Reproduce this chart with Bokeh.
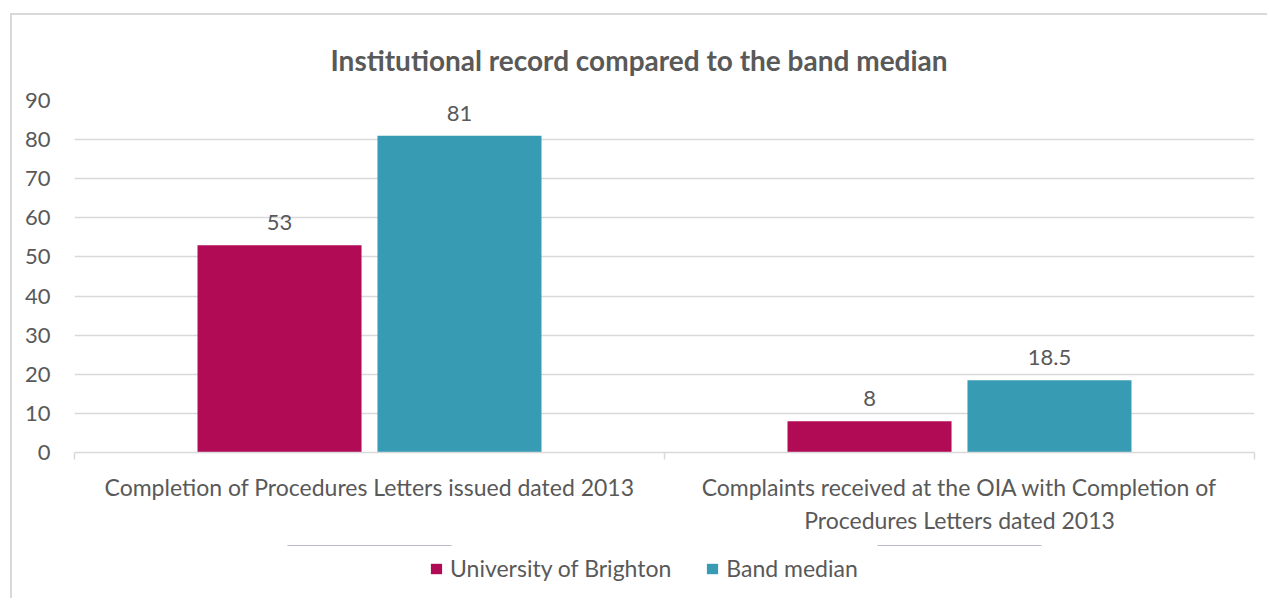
from bokeh.plotting import figure
from bokeh.layouts import column
from bokeh.models import (ColumnDataSource, Range1d, LinearAxis,
                          FixedTicker, Legend, LegendItem)
from bokeh.core.properties import value
from bokeh.transform import dodge
from bokeh.embed import file_html
from bokeh.resources import INLINE

# ---- data ----
categories = [
    "Completion of Procedures Letters issued dated 2013",
    "Complaints received at the OIA with Completion of\nProcedures Letters dated 2013",
]
series_names = ["University of Brighton", "Band median"]
brighton = [53, 8]
band_median = [81, 18.5]
y_ticks = [0, 10, 20, 30, 40, 50, 60, 70, 80, 90]
title_text = "Institutional record compared to the band median"

TEXT = "#595959"
GRID = "#d9d9d9"
RED = "#b10b55"
BLUE = "#389bb4"
FONT = "Lato"

def fmt(v):
    return f"{v:g}"

centers = [i + 0.5 for i in range(len(categories))]
src = ColumnDataSource(dict(
    x=centers,
    brighton=brighton,
    median=band_median,
    brighton_lbl=[fmt(v) for v in brighton],
    median_lbl=[fmt(v) for v in band_median],
))

W, H, HL = 1255, 530, 53
p = figure(x_range=Range1d(0, len(categories)), y_range=Range1d(0, 90),
           width=W, height=H, output_backend="svg", toolbar_location=None,
           x_axis_location=None, y_axis_location=None,
           min_border_left=62, min_border_right=13, min_border_top=85, min_border_bottom=93)
p.outline_line_color = None
p.background_fill_color = "white"
p.border_fill_color = "white"

# title
p.title.text = title_text
p.title.align = "left"
p.title.offset = 256
p.title.text_font = FONT
p.title.text_font_size = "28px"
p.title.text_font_style = "bold"
p.title.text_color = TEXT
p.title.standoff = 48

# y axis
yax = LinearAxis(ticker=FixedTicker(ticks=y_ticks))
yax.axis_line_color = None
yax.major_tick_line_color = None
yax.minor_tick_line_color = None
yax.major_label_text_font = FONT
yax.major_label_text_font_size = "22px"
yax.major_label_text_color = TEXT
yax.major_label_standoff = 18
p.add_layout(yax, "left")
p.ygrid.ticker = FixedTicker(ticks=y_ticks)
p.ygrid.grid_line_color = GRID
p.ygrid.grid_line_width = 1.5
p.xgrid.grid_line_color = None

# boundary tick axis (category separators)
bounds = list(range(len(categories) + 1))
bax = LinearAxis(ticker=FixedTicker(ticks=bounds))
bax.axis_line_color = GRID
bax.axis_line_width = 1.5
bax.major_tick_line_color = GRID
bax.major_tick_line_width = 1.5
bax.major_tick_in = 0
bax.major_tick_out = 7
bax.minor_tick_line_color = None
bax.major_label_overrides = {b: "" for b in bounds}
bax.major_label_text_font_size = "1px"
bax.major_label_standoff = 0
p.add_layout(bax, "below")

# category axis
cax = LinearAxis(ticker=FixedTicker(ticks=centers))
cax.major_label_overrides = {c: lab for c, lab in zip(centers, categories)}
cax.axis_line_color = None
cax.major_tick_line_color = None
cax.minor_tick_line_color = None
cax.major_label_text_font = FONT
cax.major_label_text_font_size = "23px"
cax.major_label_text_color = TEXT
cax.major_label_standoff = 7
cax.major_label_text_align = "center"
p.add_layout(cax, "below")

# bars
off = 0.1525
bw = 0.278
p.vbar(x=dodge("x", -off), top="brighton", width=bw, source=src, fill_color=RED, line_color=None)
p.vbar(x=dodge("x", off), top="median", width=bw, source=src, fill_color=BLUE, line_color=None)

# data labels
for key, lbl, o in (("brighton", "brighton_lbl", -off), ("median", "median_lbl", off)):
    p.text(x=dodge("x", o), y=key, text=lbl, source=src,
           text_align="center", text_baseline="bottom", y_offset=-15,
           text_font=value(FONT), text_font_size="22px", text_color=TEXT)

# legend strip (its own small figure; its legend renderers are zero-height, far outside its y-range)
pl = figure(x_range=Range1d(0, len(categories)), y_range=Range1d(-1000, -999),
            width=W, height=HL, output_backend="svg", toolbar_location=None,
            x_axis_location=None, y_axis_location=None,
            min_border_left=0, min_border_right=0, min_border_top=0, min_border_bottom=0)
pl.outline_line_color = None
pl.grid.grid_line_color = None
pl.border_fill_color = "white"
lr1 = pl.vbar(x="x", bottom="brighton", top="brighton", width=bw, source=src,
              fill_color=RED, line_color=None)
lr2 = pl.vbar(x="x", bottom="median", top="median", width=bw, source=src,
              fill_color=BLUE, line_color=None)
legend = Legend(items=[LegendItem(label=series_names[0], renderers=[lr1]),
                       LegendItem(label=series_names[1], renderers=[lr2])],
                orientation="horizontal", location=(355, 16))
legend.label_text_font = FONT
legend.label_text_font_size = "23px"
legend.label_text_color = TEXT
legend.glyph_width = 14
legend.glyph_height = 13
legend.spacing = 34
legend.padding = 0
legend.margin = 0
legend.label_standoff = 7
legend.border_line_color = None
legend.background_fill_alpha = 0
pl.add_layout(legend, "center")

layout = column(p, pl, spacing=0)
layout.styles = {"margin-left": "10px", "margin-top": "13px",
                 "border-left": "2px solid #d9d9d9", "border-top": "2px solid #d9d9d9"}

open("out.html", "w").write(file_html(layout, INLINE))
